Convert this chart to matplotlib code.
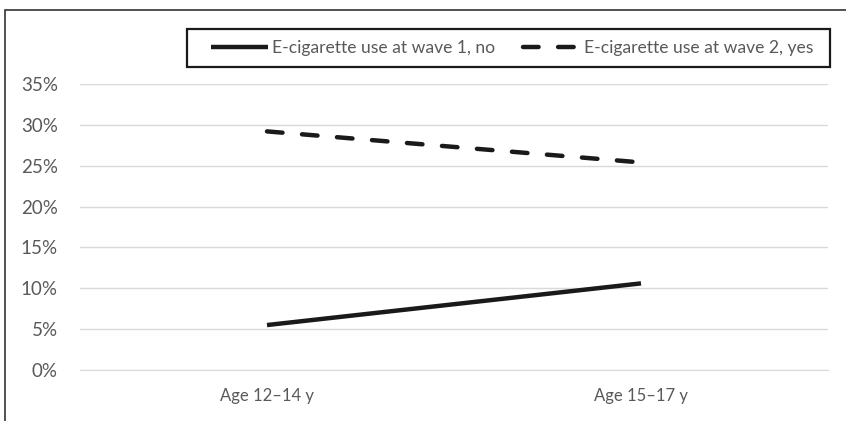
import matplotlib
matplotlib.use("Agg")
import matplotlib.pyplot as plt
from matplotlib.patches import Rectangle
from matplotlib.ticker import PercentFormatter

categories = ["Age 12\u201314 y", "Age 15\u201317 y"]
wave1_no = [0.055, 0.106]
wave2_yes = [0.292, 0.254]
series_labels = ["E-cigarette use at wave 1, no", "E-cigarette use at wave 2, yes"]
yticks = [0, 0.05, 0.10, 0.15, 0.20, 0.25, 0.30, 0.35]

plt.rcParams['font.family'] = ['Lato', 'DejaVu Sans']

W, H = 846, 421
fig = plt.figure(figsize=(W/100, H/100), dpi=100)
ax = fig.add_axes([80/W, 1-370/H, (828-80)/W, (370-84)/H])

x = list(range(len(categories)))
line_color = "#1a1a1a"
ax.plot(x, wave1_no, color=line_color, lw=3.2, solid_capstyle='butt', label=series_labels[0])
ax.plot(x, wave2_yes, color=line_color, lw=3.2, dashes=(3.5, 4.4), dash_capstyle='round', label=series_labels[1])

ax.set_xlim(-0.5, len(categories)-0.5)
ax.set_ylim(0, 0.35)
ax.set_yticks(yticks)
ax.yaxis.set_major_formatter(PercentFormatter(1.0, decimals=0))
ax.set_xticks(x)
ax.set_xticklabels(categories)
ax.grid(axis='y', color='#d9d9d9', lw=1)
ax.set_axisbelow(True)
for s in ['top', 'right', 'left']:
    ax.spines[s].set_visible(False)
ax.spines['bottom'].set_color('#d9d9d9')
ax.tick_params(axis='both', length=0, colors='#595959')
ax.tick_params(axis='y', labelsize=13.5, pad=16)
ax.tick_params(axis='x', labelsize=12, pad=13)

leg = fig.legend(loc='center', bbox_to_anchor=((207+817)/2/W, 1-48/H), ncol=2,
                 fontsize=12.6, handlelength=3.3, frameon=False,
                 borderpad=0, borderaxespad=0, columnspacing=1.6, handletextpad=0.2)
for t in leg.get_texts():
    t.set_color('#595959')

# legend frame
fig.patches.append(Rectangle((187/W, 1-67/H), (830-187)/W, 38/H, transform=fig.transFigure,
                             fill=False, edgecolor='#1a1a1a', lw=1.6))
# outer chart border (cropped on right and bottom)
fig.patches.append(Rectangle((5/W, -0.1), 1.2, 1-10/H+0.1, transform=fig.transFigure,
                             fill=False, edgecolor='#333333', lw=1.2, clip_on=False))

fig.savefig("out.png", dpi=100)
